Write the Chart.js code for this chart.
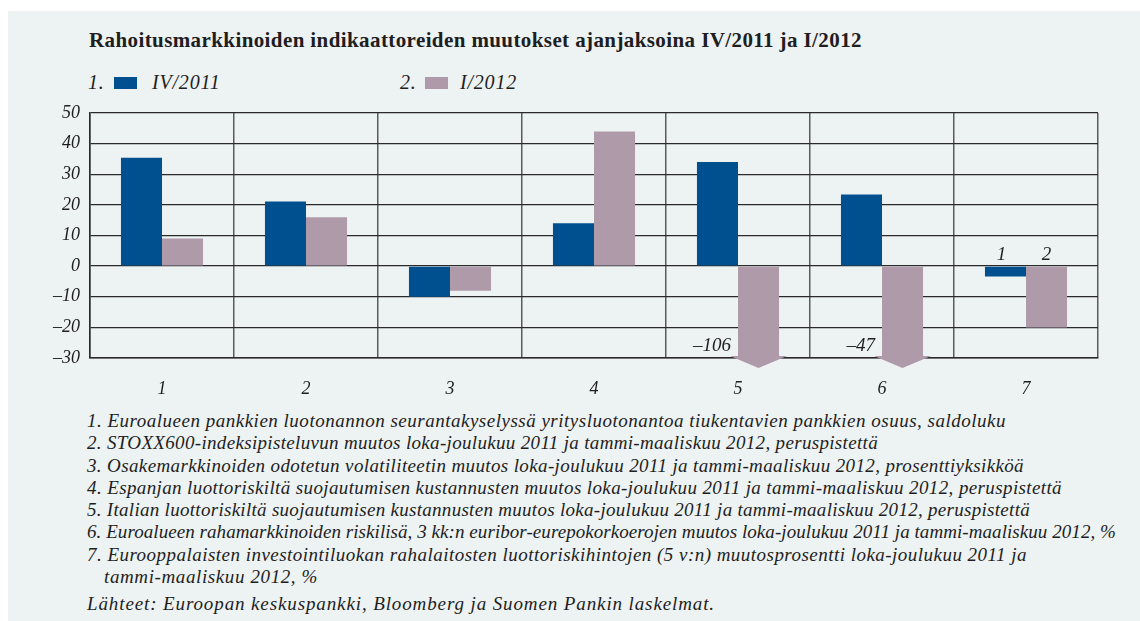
<html>
<head>
<style>
  body { margin: 0; background: #fff; font-family: "Liberation Serif", serif; color: #1e1e1e; }
  #panel { position: absolute; left: 8px; top: 11px; width: 1132px; height: 610px; background: #edf2f3; }
  .abs { position: absolute; white-space: nowrap; }
  #title { left: 89px; top: 29px; font-size: 21px; letter-spacing: 0.4px; font-weight: bold; line-height: 22px; }
  .leg { top: 71px; font-size: 20px; letter-spacing: 0.8px; font-style: italic; line-height: 22px; }
  .box { position: absolute; top: 77px; width: 23px; height: 12px; }
  #notes { left: 87px; top: 410px; font-size: 19px; font-style: italic; line-height: 22.3px; }
  #notes div { display: table; }
  #notes .indent { margin-left: 17px; }
  #notes .src { margin-top: 5px; }
  #wrap { position: absolute; left: 0; top: 100px; width: 1140px; height: 300px; }
</style>
</head>
<body>
<div id="panel"></div>
<div id="title" class="abs">Rahoitusmarkkinoiden indikaattoreiden muutokset ajanjaksoina IV/2011 ja I/2012</div>
<div class="abs leg" style="left:88px">1.</div>
<div class="box" style="left:114px; background:#00508f"></div>
<div class="abs leg" style="left:152px">IV/2011</div>
<div class="abs leg" style="left:400px">2.</div>
<div class="box" style="left:425px; background:#af9aaa"></div>
<div class="abs leg" style="left:460px">I/2012</div>

<div id="wrap"><canvas id="chart"></canvas></div>

<!-- data-w: width of each line in the original, used to set letter spacing -->
<div id="notes" class="abs">
  <div data-w="919">1. Euroalueen pankkien luotonannon seurantakyselyssä yritysluotonantoa tiukentavien pankkien osuus, saldoluku</div>
  <div data-w="791">2. STOXX600-indeksipisteluvun muutos loka-joulukuu 2011 ja tammi-maaliskuu 2012, peruspistettä</div>
  <div data-w="937">3. Osakemarkkinoiden odotetun volatiliteetin muutos loka-joulukuu 2011 ja tammi-maaliskuu 2012, prosenttiyksikköä</div>
  <div data-w="975">4. Espanjan luottoriskiltä suojautumisen kustannusten muutos loka-joulukuu 2011 ja tammi-maaliskuu 2012, peruspistettä</div>
  <div data-w="943">5. Italian luottoriskiltä suojautumisen kustannusten muutos loka-joulukuu 2011 ja tammi-maaliskuu 2012, peruspistettä</div>
  <div data-w="1029">6. Euroalueen rahamarkkinoiden riskilisä, 3 kk:n euribor-eurepokorkoerojen muutos loka-joulukuu 2011 ja tammi-maaliskuu 2012, %</div>
  <div data-w="940">7. Eurooppalaisten investointiluokan rahalaitosten luottoriskihintojen (5 v:n) muutosprosentti loka-joulukuu 2011 ja</div>
  <div data-w="214" class="indent">tammi-maaliskuu 2012, %</div>
  <div data-w="628" class="src">Lähteet: Euroopan keskuspankki, Bloomberg ja Suomen Pankin laskelmat.</div>
</div>

<script src="https://cdn.jsdelivr.net/npm/chart.js@4"></script>
<script>
// data
const categories = ['1', '2', '3', '4', '5', '6', '7'];
const seriesNames = ['IV/2011', 'I/2012'];
const q4_2011 = [35.4, 21.1, -10, 14, 34, 23.4, -3.4];
const q1_2012 = [9, 16, -8, 44, -106, -47, -20];
const yTicks = { min: -30, max: 50, step: 10 };
const tagCategory = 6;   // where the series numbers 1 and 2 are written

const BLUE = '#00508f';
const PINK = '#af9aaa';
const TXT = '#1e1e1e';
const italic = { family: '"Liberation Serif", serif', style: 'italic', size: 18 };

// stretch the footnote lines to the original widths
document.querySelectorAll('#notes div').forEach(d => {
  const natural = d.getBoundingClientRect().width;
  const n = d.textContent.length;
  d.style.letterSpacing = ((+d.dataset.w - natural) / n) + 'px';
});

// bars that run off the bottom get an arrow head and their value
const arrowPlugin = {
  id: 'arrows',
  afterDatasetsDraw(chart) {
    const ctx = chart.ctx;
    const y = chart.scales.y;
    const bottom = chart.chartArea.bottom;
    ctx.save();
    chart.data.datasets.forEach((ds, di) => {
      const meta = chart.getDatasetMeta(di);
      ds.data.forEach((v, i) => {
        if (v >= y.min) return;
        const bar = meta.data[i];
        const half = bar.width / 2;
        ctx.fillStyle = ds.backgroundColor;
        ctx.beginPath();
        ctx.moveTo(bar.x - half - 8, bottom - 2);
        ctx.lineTo(bar.x + half + 8, bottom - 2);
        ctx.lineTo(bar.x, bottom + 10);
        ctx.closePath();
        ctx.fill();
        ctx.fillStyle = TXT;
        ctx.font = 'italic 19px "Liberation Serif", serif';
        ctx.textAlign = 'right';
        ctx.textBaseline = 'alphabetic';
        ctx.fillText('\u2013' + Math.abs(v), bar.x - half - 7, bottom - 7);
      });
    });
    // series numbers above the last group
    const zero = y.getPixelForValue(0);
    chart.data.datasets.forEach((ds, di) => {
      const bar = chart.getDatasetMeta(di).data[tagCategory];
      ctx.fillStyle = TXT;
      ctx.font = 'italic 19px "Liberation Serif", serif';
      ctx.textAlign = 'center';
      ctx.fillText(String(di + 1), bar.x - (di === 0 ? 4 : 0), zero - 6);
    });
    ctx.restore();
  }
};

new Chart(document.getElementById('chart'), {
  type: 'bar',
  data: {
    labels: categories,
    datasets: [
      { label: seriesNames[0], data: q4_2011, backgroundColor: BLUE },
      { label: seriesNames[1], data: q1_2012, backgroundColor: PINK }
    ]
  },
  options: {
    responsive: true,
    maintainAspectRatio: false,
    animation: false,
    layout: { padding: { top: 13, right: 42, left: 0, bottom: 0 } },
    plugins: { legend: { display: false }, tooltip: { enabled: false } },
    datasets: { bar: { categoryPercentage: 0.57, barPercentage: 1 } },
    scales: {
      x: {
        afterFit: s => { s.height = 42; s.paddingLeft = 0; s.paddingRight = 0; },
        grid: { color: '#5a5a5a', lineWidth: 1.5, drawTicks: false },
        border: { color: '#2a2a2a', width: 1.5 },
        ticks: { color: TXT, font: italic, padding: 20 }
      },
      y: {
        min: yTicks.min,
        max: yTicks.max,
        afterFit: s => { s.width = 90; s.paddingTop = 0; s.paddingBottom = 0; },
        grid: { color: '#2a2a2a', lineWidth: 1.3, drawTicks: false },
        border: { color: '#2a2a2a', width: 1.5 },
        ticks: {
          stepSize: yTicks.step,
          color: TXT,
          font: italic,
          padding: 10,
          callback: v => String(v).replace('-', '\u2013')
        }
      }
    }
  },
  plugins: [arrowPlugin]
});
</script>
</body>
</html>
